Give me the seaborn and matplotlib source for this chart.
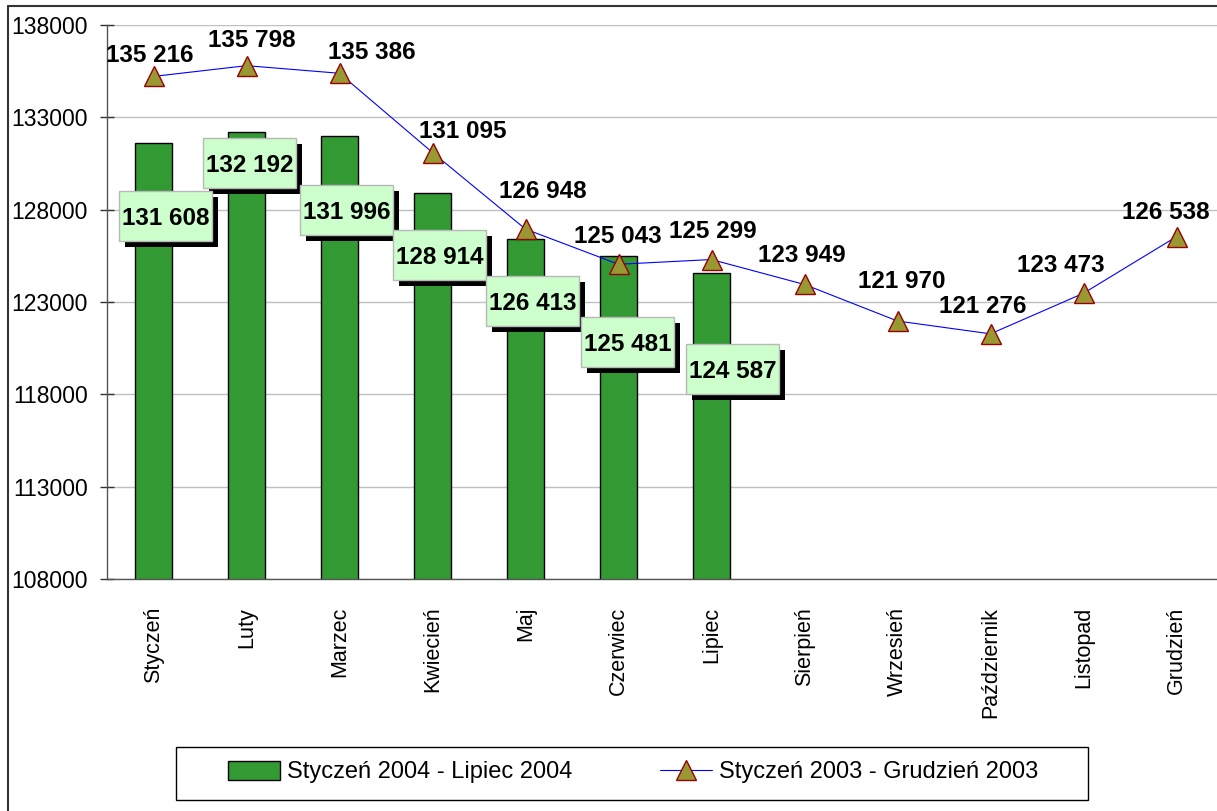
import numpy as np
import pandas as pd
import matplotlib
matplotlib.use("Agg")
import matplotlib.pyplot as plt
import seaborn as sns
from matplotlib.patches import Rectangle, Patch
from matplotlib.lines import Line2D
from matplotlib.transforms import Affine2D, ScaledTranslation

# ---------------- data ----------------
months = ["Styczeń", "Luty", "Marzec", "Kwiecień", "Maj", "Czerwiec", "Lipiec",
          "Sierpień", "Wrzesień", "Październik", "Listopad", "Grudzień"]
values_2004 = [131608, 132192, 131996, 128914, 126413, 125481, 124587]
values_2003 = [135216, 135798, 135386, 131095, 126948, 125043, 125299,
               123949, 121970, 121276, 123473, 126538]
series_2004 = "Styczeń 2004 - Lipiec 2004"
series_2003 = "Styczeń 2003 - Grudzień 2003"
y_ticks = [108000, 113000, 118000, 123000, 128000, 133000, 138000]

# ---------------- layout (pixel offsets of the labels) ----------------
bar_label_offsets = [(12, 73), (3, 31), (7, 74), (7, 62), (7, 62), (9, 86), (21, 96)]
line_label_offsets = [(-4, 14), (5, 19), (32, 14), (30, 15), (17, 31), (-1, 21),
                      (1, 22), (-3, 22), (4, 33), (-8, 21), (-23, 21), (-11, 18)]

BAR_COLOR = "#339933"
LINE_COLOR = "#0000FF"
MARKER_FACE = "#999933"
MARKER_EDGE = "#990000"
BOX_FACE = "#CCFFCC"

sns.set_style("white")
plt.rcParams["font.family"] = ["Liberation Sans", "DejaVu Sans"]
plt.rcParams["text.color"] = "black"
plt.rcParams["xtick.color"] = "black"
plt.rcParams["ytick.color"] = "black"
plt.rcParams["xtick.labelcolor"] = "black"
plt.rcParams["ytick.labelcolor"] = "black"

W, H = 1217, 811
fig = plt.figure(figsize=(W / 100, H / 100), dpi=100)
ax = fig.add_axes([107 / W, (H - 579) / H, 1116 / W, 554 / H])

df = pd.DataFrame({"month": months[:len(values_2004)], "value": values_2004})
sns.barplot(data=df, x="month", y="value", order=months, color=BAR_COLOR,
            saturation=1, width=0.4, edgecolor="black", linewidth=1, ax=ax, zorder=2)

sns.lineplot(x=np.arange(len(months)), y=values_2003, color=LINE_COLOR, linewidth=0.8,
             marker="^", markersize=15, markerfacecolor=MARKER_FACE,
             markeredgecolor=MARKER_EDGE, markeredgewidth=1, ax=ax, zorder=4)

ax.set_xlim(-0.5, len(months) - 0.5)
ax.set_ylim(y_ticks[0], y_ticks[-1])
ax.set_yticks(y_ticks)
ax.set_yticklabels([str(v) for v in y_ticks], fontsize=16.5)
ax.set_xticks(np.arange(len(months)))
ax.set_xticklabels(months, rotation=90, fontsize=15.5)
ax.set_xticks(np.arange(len(months) + 1) - 0.5, minor=True)
ax.tick_params(axis="x", which="major", length=0, pad=20)
ax.tick_params(axis="x", which="minor", direction="inout", length=10, width=1, color="#333333")
ax.tick_params(axis="y", direction="inout", length=10, width=1, color="#333333", pad=9, left=True)
ax.set_xlabel("")
ax.set_ylabel("")
ax.set_axisbelow(True)
ax.yaxis.grid(True, color="#c0c0c0", linewidth=1)
ax.xaxis.grid(False)
for s in ["top", "right"]:
    ax.spines[s].set_visible(False)
for s in ["left", "bottom"]:
    ax.spines[s].set_color("#555555")
    ax.spines[s].set_linewidth(1)
if ax.get_legend() is not None:
    ax.get_legend().remove()


def fmt(v):
    return f"{v:,}".replace(",", " ")


# bar labels: boxed with shadow
for i, (v, (dx, dy)) in enumerate(zip(values_2004, bar_label_offsets)):
    tr = Affine2D() + ScaledTranslation(i, v, ax.transData)
    bw, bh = 93, 50
    shadow = Rectangle((dx - bw / 2 + 6, -dy - bh / 2 - 6), bw, bh, transform=tr,
                       facecolor="black", edgecolor="none", zorder=5, clip_on=False)
    box = Rectangle((dx - bw / 2, -dy - bh / 2), bw, bh, transform=tr,
                    facecolor=BOX_FACE, edgecolor="#b8b8b8", linewidth=1, zorder=6, clip_on=False)
    ax.add_artist(shadow)
    ax.add_artist(box)
    ax.annotate(fmt(v), xy=(i, v), xytext=(dx, -dy - 9), textcoords="offset pixels",
                ha="center", va="baseline", fontsize=17.5, fontweight="bold", zorder=7,
                color="black")

# line labels
for i, (v, (dx, dy)) in enumerate(zip(values_2003, line_label_offsets)):
    ax.annotate(fmt(v), xy=(i, v), xytext=(dx, dy), textcoords="offset pixels",
                ha="center", va="baseline", fontsize=17.5, fontweight="bold", zorder=8,
                annotation_clip=False, color="black")

# legend frame + legend
fig.add_artist(Rectangle((176 / W, (H - 800) / H), 912 / W, 53 / H, transform=fig.transFigure,
                         fill=False, edgecolor="black", linewidth=1))
handles = [Patch(facecolor=BAR_COLOR, edgecolor="black", linewidth=1),
           Line2D([], [], color=LINE_COLOR, linewidth=0.8, marker="^", markersize=15,
                  markerfacecolor=MARKER_FACE, markeredgecolor=MARKER_EDGE, markeredgewidth=1)]
leg = fig.legend(handles, [series_2004, series_2003], loc="center left",
                 bbox_to_anchor=(228 / W, (H - 772) / H), ncol=2, frameon=False, fontsize=17,
                 handlelength=2.2, handleheight=0.85, handletextpad=0.3, columnspacing=3.7,
                 borderpad=0, borderaxespad=0, numpoints=1)
for t in leg.get_texts():
    t.set_color("black")

# outer partial frame
fig.add_artist(Line2D([8 / W, 8 / W], [0, 1 - 5.5 / H], transform=fig.transFigure,
                      color="#333333", linewidth=1.5))
fig.add_artist(Line2D([8 / W, 1], [1 - 5.5 / H, 1 - 5.5 / H], transform=fig.transFigure,
                      color="#333333", linewidth=1.5))

fig.savefig("out.png", dpi=100)
